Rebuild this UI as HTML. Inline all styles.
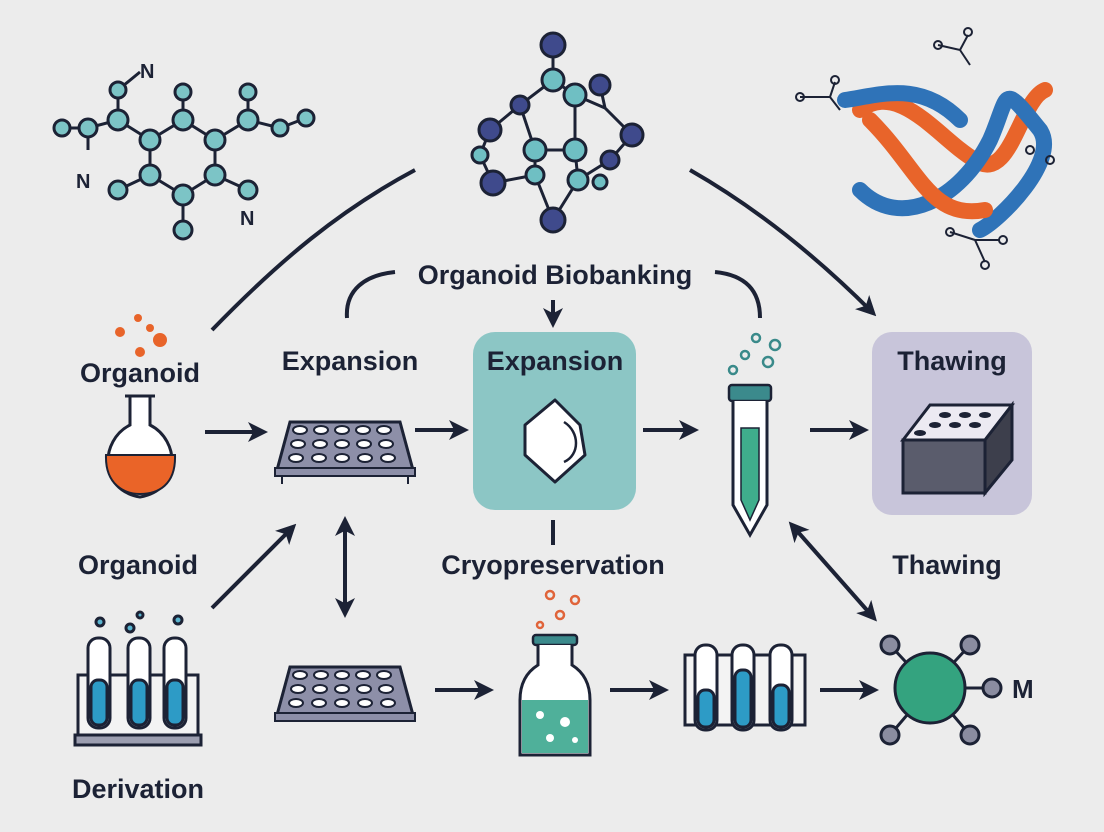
<!DOCTYPE html>
<html><head><meta charset="utf-8"><style>
html,body{margin:0;padding:0;background:#ececec;}
svg{display:block}
text{font-family:"Liberation Sans",sans-serif;fill:#1c2235;font-weight:bold}
</style></head><body>
<svg width="1104" height="832" viewBox="0 0 1104 832">
<defs>
<marker id="ah" markerWidth="5" markerHeight="5" refX="3.5" refY="2.5" orient="auto" markerUnits="strokeWidth">
<path d="M0,0 L5,2.5 L0,5 L1.3,2.5z" fill="#1c2235"/></marker>
<marker id="as" markerWidth="5" markerHeight="5" refX="1.5" refY="2.5" orient="auto-start-reverse" markerUnits="strokeWidth">
<path d="M0,0 L5,2.5 L0,5 L1.3,2.5z" fill="#1c2235"/></marker>
</defs>
<rect width="1104" height="832" fill="#ececec"/>

<!-- top-left molecule -->
<g stroke="#1c2235" stroke-width="3" fill="#7cc4c6">
<path d="M62,128 L88,128 L118,120 L150,140 L183,120 L215,140 L248,120 L280,128 L306,118 M118,120 L118,90 L140,72 M150,140 L150,175 L183,195 L215,175 L215,140 M183,120 L183,92 M248,120 L248,92 M150,175 L118,190 M183,195 L183,230 M215,175 L248,190 M88,128 L88,150" fill="none"/>
<circle cx="62" cy="128" r="8"/><circle cx="88" cy="128" r="9"/><circle cx="118" cy="120" r="10"/><circle cx="118" cy="90" r="8"/><circle cx="150" cy="140" r="10"/><circle cx="183" cy="120" r="10"/><circle cx="183" cy="92" r="8"/><circle cx="215" cy="140" r="10"/><circle cx="248" cy="120" r="10"/><circle cx="248" cy="92" r="8"/><circle cx="280" cy="128" r="8"/><circle cx="306" cy="118" r="8"/><circle cx="150" cy="175" r="10"/><circle cx="183" cy="195" r="10"/><circle cx="215" cy="175" r="10"/><circle cx="118" cy="190" r="9"/><circle cx="183" cy="230" r="9"/><circle cx="248" cy="190" r="9"/>
</g>
<text x="140" y="78" font-size="20">N</text>
<text x="76" y="188" font-size="20">N</text>
<text x="240" y="225" font-size="20">N</text>

<!-- top-center molecule -->
<g stroke="#1c2235" stroke-width="3">
<path d="M553,45 L553,80 L520,105 L490,130 L480,155 L493,183 L535,175 L553,220 M553,80 L575,95 L605,108 L632,135 L610,160 L578,180 L553,220 M520,105 L535,150 L575,150 L575,95 M535,150 L535,175 M575,150 L578,180 M605,108 L600,85" fill="none"/>
<g fill="#3f4a8c"><circle cx="553" cy="45" r="12"/><circle cx="490" cy="130" r="11"/><circle cx="493" cy="183" r="12"/><circle cx="553" cy="220" r="12"/><circle cx="632" cy="135" r="11"/><circle cx="600" cy="85" r="10"/><circle cx="520" cy="105" r="9"/><circle cx="610" cy="160" r="9"/></g>
<g fill="#6fbfc3"><circle cx="553" cy="80" r="11"/><circle cx="575" cy="95" r="11"/><circle cx="535" cy="150" r="11"/><circle cx="575" cy="150" r="11"/><circle cx="535" cy="175" r="9"/><circle cx="578" cy="180" r="10"/><circle cx="480" cy="155" r="8"/><circle cx="600" cy="182" r="7"/></g>
</g>

<!-- DNA -->
<g fill="none" stroke-width="16" stroke-linecap="round">
<path d="M860,110 C900,80 940,140 975,160 C1010,185 1020,100 1045,90" stroke="#e8642a"/>
<path d="M860,190 C900,230 960,200 990,140 C1010,95 1000,80 1040,130 C1060,160 1000,220 980,230" stroke="#2f73b8"/>
<path d="M870,120 C920,170 930,220 985,210" stroke="#e8642a"/>
<path d="M845,100 C880,95 920,80 960,120" stroke="#2f73b8"/>
</g>
<g stroke="#1c2235" stroke-width="2" fill="none">
<path d="M800,97 L830,97 L840,110 M830,97 L835,82"/><circle cx="800" cy="97" r="4"/><circle cx="835" cy="80" r="4"/>
<path d="M938,45 L960,50 L968,35 M960,50 L970,65"/><circle cx="938" cy="45" r="4"/><circle cx="968" cy="32" r="4"/>
<path d="M950,232 L975,240 L985,262 M975,240 L1000,240"/><circle cx="950" cy="232" r="4"/><circle cx="985" cy="265" r="4"/><circle cx="1003" cy="240" r="4"/>
<circle cx="1050" cy="160" r="4"/><circle cx="1030" cy="150" r="4"/>
</g>

<!-- arrows -->
<g fill="none" stroke="#1c2235" stroke-width="4">
<path d="M212,330 C280,260 340,210 415,170"/>
<path d="M690,170 C760,210 820,260 872,312" marker-end="url(#ah)"/>
<path d="M347,318 C345,290 365,275 395,272"/>
<path d="M715,272 C745,275 760,290 760,318"/>
<path d="M553,300 L553,322" marker-end="url(#ah)"/>
<path d="M205,432 L262,432" marker-end="url(#ah)"/>
<path d="M415,430 L463,430" marker-end="url(#ah)"/>
<path d="M643,430 L693,430" marker-end="url(#ah)"/>
<path d="M810,430 L863,430" marker-end="url(#ah)"/>
<path d="M553,520 L553,545"/>
<path d="M212,608 L292,528" marker-end="url(#ah)"/>
<path d="M345,530 L345,612" marker-start="url(#as)" marker-end="url(#ah)"/>
<path d="M798,532 L873,617" marker-start="url(#as)" marker-end="url(#ah)"/>
<path d="M435,690 L488,690" marker-end="url(#ah)"/>
<path d="M610,690 L663,690" marker-end="url(#ah)"/>
<path d="M820,690 L873,690" marker-end="url(#ah)"/>
</g>

<text x="555" y="284" font-size="27" text-anchor="middle">Organoid Biobanking</text>

<!-- organoid flask -->
<g fill="#e8642a"><circle cx="120" cy="332" r="5"/><circle cx="138" cy="318" r="4"/><circle cx="160" cy="340" r="7"/><circle cx="140" cy="352" r="5"/><circle cx="150" cy="328" r="4"/></g>
<text x="140" y="382" font-size="27" text-anchor="middle">Organoid</text>
<path d="M125,396 L155,396 M130,396 L130,425 C100,440 98,490 140,497 C182,490 180,440 150,425 L150,396" fill="#fff" stroke="#1c2235" stroke-width="3"/>
<path d="M106,455 C105,485 125,494 140,494 C158,494 176,485 175,455 Z" fill="#ea6428" stroke="#1c2235" stroke-width="2"/>

<!-- plate -->
<g>
<path d="M290,422 L400,422 L413,470 L277,470 Z" fill="#8d8fa8" stroke="#1c2235" stroke-width="3"/>
<rect x="275" y="468" width="140" height="8" fill="#8d8fa8" stroke="#1c2235" stroke-width="2"/>
<path d="M282,476 v8 M408,476 v8" stroke="#1c2235" stroke-width="2"/>
<g fill="#fff" stroke="#1c2235" stroke-width="2">
<ellipse cx="300" cy="430" rx="7" ry="4"/><ellipse cx="321" cy="430" rx="7" ry="4"/><ellipse cx="342" cy="430" rx="7" ry="4"/><ellipse cx="363" cy="430" rx="7" ry="4"/><ellipse cx="384" cy="430" rx="7" ry="4"/>
<ellipse cx="298" cy="444" rx="7" ry="4"/><ellipse cx="320" cy="444" rx="7" ry="4"/><ellipse cx="342" cy="444" rx="7" ry="4"/><ellipse cx="364" cy="444" rx="7" ry="4"/><ellipse cx="386" cy="444" rx="7" ry="4"/>
<ellipse cx="296" cy="458" rx="7" ry="4"/><ellipse cx="319" cy="458" rx="7" ry="4"/><ellipse cx="342" cy="458" rx="7" ry="4"/><ellipse cx="365" cy="458" rx="7" ry="4"/><ellipse cx="388" cy="458" rx="7" ry="4"/>
</g></g>
<text x="350" y="370" font-size="27" text-anchor="middle">Expansion</text>

<!-- teal box -->
<rect x="473" y="332" width="163" height="178" rx="22" fill="#8cc6c5"/>
<text x="555" y="370" font-size="27" text-anchor="middle">Expansion</text>
<path d="M555,400 L580,425 L585,455 L555,482 L525,455 L525,425 Z" fill="#fff" stroke="#1c2235" stroke-width="3" stroke-linejoin="round"/>
<path d="M564,422 C580,432 580,455 564,462" fill="none" stroke="#1c2235" stroke-width="2.5"/>

<!-- tube -->
<g fill="none" stroke="#3a8a8a" stroke-width="2.5"><circle cx="756" cy="338" r="4"/><circle cx="745" cy="355" r="4"/><circle cx="775" cy="345" r="5"/><circle cx="733" cy="370" r="4"/><circle cx="768" cy="362" r="5"/></g>
<rect x="729" y="385" width="42" height="16" rx="3" fill="#3b8a8c" stroke="#1c2235" stroke-width="2.5"/>
<path d="M733,401 L733,505 L750,535 L767,505 L767,401" fill="#fff" stroke="#1c2235" stroke-width="3"/>
<path d="M741,428 L759,428 L759,500 L750,520 L741,500 Z" fill="#3fae8c" stroke="#1c2235" stroke-width="1.5"/>

<!-- purple box -->
<rect x="872" y="332" width="160" height="183" rx="20" fill="#c8c5da"/>
<text x="952" y="370" font-size="27" text-anchor="middle">Thawing</text>
<path d="M903,440 L930,405 L1012,405 L985,440 Z" fill="#eceaf2" stroke="#1c2235" stroke-width="3"/>
<path d="M903,440 L985,440 L985,493 L903,493 Z" fill="#5a5c6c" stroke="#1c2235" stroke-width="3"/>
<path d="M985,440 L1012,405 L1012,460 L985,493 Z" fill="#3d3f4c" stroke="#1c2235" stroke-width="3"/>
<g fill="#1c2235"><ellipse cx="935" cy="425" rx="6" ry="3"/><ellipse cx="955" cy="425" rx="6" ry="3"/><ellipse cx="975" cy="425" rx="6" ry="3"/><ellipse cx="945" cy="415" rx="6" ry="3"/><ellipse cx="965" cy="415" rx="6" ry="3"/><ellipse cx="985" cy="415" rx="6" ry="3"/><ellipse cx="920" cy="433" rx="6" ry="3"/></g>

<text x="138" y="574" font-size="27" text-anchor="middle">Organoid</text>
<text x="553" y="574" font-size="27" text-anchor="middle">Cryopreservation</text>
<text x="947" y="574" font-size="27" text-anchor="middle">Thawing</text>

<!-- test tube rack left -->
<g stroke="#1c2235" stroke-width="3">
<g fill="#5bb5d0"><circle cx="100" cy="622" r="4"/><circle cx="130" cy="628" r="4"/><circle cx="140" cy="615" r="3"/><circle cx="178" cy="620" r="4"/></g>
<rect x="78" y="675" width="120" height="60" fill="#fff" fill-opacity="0.4"/>
<g fill="#fff"><rect x="88" y="638" width="22" height="90" rx="10"/><rect x="128" y="638" width="22" height="90" rx="10"/><rect x="164" y="638" width="22" height="90" rx="10"/></g>
<g fill="#2d9bc6"><rect x="91" y="680" width="16" height="45" rx="7"/><rect x="131" y="680" width="16" height="45" rx="7"/><rect x="167" y="680" width="16" height="45" rx="7"/></g>
<rect x="75" y="735" width="126" height="10" fill="#9c9eb0"/>
</g>
<text x="138" y="798" font-size="27" text-anchor="middle">Derivation</text>

<!-- bottom plate -->
<g>
<path d="M290,667 L400,667 L413,715 L277,715 Z" fill="#8d8fa8" stroke="#1c2235" stroke-width="3"/>
<rect x="275" y="713" width="140" height="8" fill="#8d8fa8" stroke="#1c2235" stroke-width="2"/>
<g fill="#fff" stroke="#1c2235" stroke-width="2">
<ellipse cx="300" cy="675" rx="7" ry="4"/><ellipse cx="321" cy="675" rx="7" ry="4"/><ellipse cx="342" cy="675" rx="7" ry="4"/><ellipse cx="363" cy="675" rx="7" ry="4"/><ellipse cx="384" cy="675" rx="7" ry="4"/>
<ellipse cx="298" cy="689" rx="7" ry="4"/><ellipse cx="320" cy="689" rx="7" ry="4"/><ellipse cx="342" cy="689" rx="7" ry="4"/><ellipse cx="364" cy="689" rx="7" ry="4"/><ellipse cx="386" cy="689" rx="7" ry="4"/>
<ellipse cx="296" cy="703" rx="7" ry="4"/><ellipse cx="319" cy="703" rx="7" ry="4"/><ellipse cx="342" cy="703" rx="7" ry="4"/><ellipse cx="365" cy="703" rx="7" ry="4"/><ellipse cx="388" cy="703" rx="7" ry="4"/>
</g></g>

<!-- bottom flask -->
<g fill="none" stroke="#e0643a" stroke-width="2.5"><circle cx="550" cy="595" r="4"/><circle cx="575" cy="600" r="4"/><circle cx="560" cy="615" r="4"/><circle cx="540" cy="625" r="3"/></g>
<rect x="533" y="635" width="44" height="10" rx="3" fill="#3b8a8c" stroke="#1c2235" stroke-width="2.5"/>
<path d="M538,645 L538,665 C522,675 520,690 520,700 L520,755 L590,755 L590,700 C590,690 588,675 572,665 L572,645" fill="#fff" stroke="#1c2235" stroke-width="3"/>
<path d="M522,700 L588,700 L588,753 L522,753 Z" fill="#4fb09a"/>
<g fill="#fff"><circle cx="540" cy="715" r="4"/><circle cx="565" cy="722" r="5"/><circle cx="550" cy="738" r="4"/><circle cx="575" cy="740" r="3"/></g>

<!-- bottom rack -->
<g stroke="#1c2235" stroke-width="3">
<rect x="685" y="655" width="120" height="70" fill="#fff" fill-opacity="0.4"/>
<g fill="#fff"><rect x="695" y="645" width="22" height="85" rx="10"/><rect x="732" y="645" width="22" height="85" rx="10"/><rect x="770" y="645" width="22" height="85" rx="10"/></g>
<g fill="#2d9bc6"><rect x="698" y="690" width="16" height="37" rx="7"/><rect x="735" y="670" width="16" height="57" rx="7"/><rect x="773" y="685" width="16" height="42" rx="7"/></g>
</g>

<!-- bottom molecule -->
<g stroke="#1c2235" stroke-width="3">
<path d="M930,688 L890,645 M930,688 L970,645 M930,688 L890,735 M930,688 L970,735 M930,688 L992,688"/>
<g fill="#8a8ca0"><circle cx="890" cy="645" r="9"/><circle cx="970" cy="645" r="9"/><circle cx="890" cy="735" r="9"/><circle cx="970" cy="735" r="9"/><circle cx="992" cy="688" r="9"/></g>
<circle cx="930" cy="688" r="35" fill="#34a37f"/>
</g>
<text x="1012" y="698" font-size="26">M</text>
</svg>
</body></html>
